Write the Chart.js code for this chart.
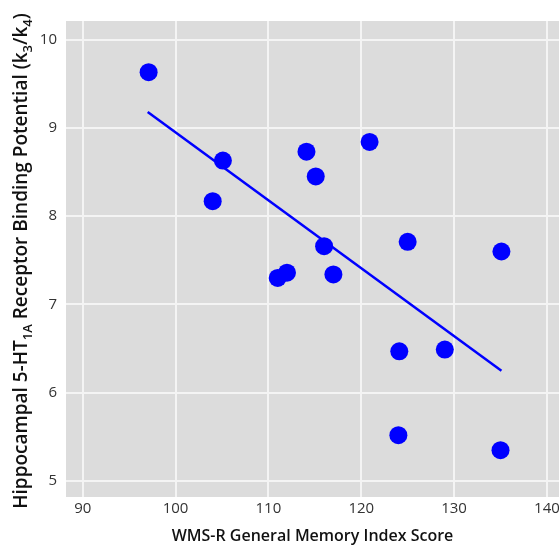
<!DOCTYPE html>
<html>
<head>
<meta charset="utf-8">
<script src="https://cdn.jsdelivr.net/npm/chart.js@4"></script>
<style>
  html, body { margin: 0; padding: 0; background: #fff; }
  #wrap { width: 559px; height: 546px; position: relative; }
</style>
</head>
<body>
<div id="wrap"><canvas id="chart" width="559" height="546"></canvas></div>
<script>
// values
const memoryScore = [97.1, 105.1, 104.0, 114.1, 115.1, 120.9, 116.0, 125.0, 135.1, 112.0, 111.0, 117.0, 124.1, 129.0, 124.0, 135.0];
const bindingPotential = [9.63, 8.63, 8.17, 8.73, 8.45, 8.84, 7.66, 7.71, 7.60, 7.36, 7.30, 7.34, 6.47, 6.49, 5.52, 5.35];
// regression line ends
const fitX = [97.0, 135.1];
const fitY = [9.18, 6.25];
// tick labels
const xTicks = [90, 100, 110, 120, 130, 140];
const yTicks = [5, 6, 7, 8, 9, 10];

const FONT = "'Open Sans', 'Noto Sans', sans-serif";
const BLUE = '#0000ff';

// gray panel behind the plot
const panelBg = {
    id: 'panelBg',
    beforeDraw(chart) {
        const a = chart.chartArea;
        const c = chart.ctx;
        c.save();
        c.fillStyle = '#dcdcdc';
        c.fillRect(a.left, a.top, a.right - a.left, a.bottom - a.top);
        c.restore();
    }
};

// y axis title with subscripts (k3/k4, 1A)
const yTitle = {
    id: 'yTitle',
    afterDraw(chart) {
        const c = chart.ctx;
        const parts = [
            ['Hippocampal 5-HT', false], ['1A', true],
            [' Receptor Binding Potential (k', false], ['3', true],
            ['/k', false], ['4', true], [')', false]
        ];
        const main = `600 19px ${FONT}`;
        const sub = `600 13px ${FONT}`;
        c.save();
        let total = 0;
        parts.forEach(p => { c.font = p[1] ? sub : main; total += c.measureText(p[0]).width; });
        c.translate(22, 261);
        c.rotate(-Math.PI / 2);
        c.fillStyle = '#111';
        c.textBaseline = 'middle';
        let x = -total / 2;
        parts.forEach(p => {
            c.font = p[1] ? sub : main;
            c.fillText(p[0], x, p[1] ? 6 : 0);
            x += c.measureText(p[0]).width;
        });
        c.restore();
    }
};

const ctx = document.getElementById('chart').getContext('2d');
new Chart(ctx, {
    type: 'scatter',
    data: {
        datasets: [
            {
                label: 'Subjects',
                data: memoryScore.map((v, i) => ({ x: v, y: bindingPotential[i] })),
                backgroundColor: BLUE,
                borderColor: BLUE,
                pointRadius: 9,
                pointHoverRadius: 9,
                borderWidth: 0
            },
            {
                label: 'Fit',
                data: fitX.map((v, i) => ({ x: v, y: fitY[i] })),
                showLine: true,
                borderColor: BLUE,
                borderWidth: 2.5,
                pointRadius: 0,
                fill: false
            }
        ]
    },
    options: {
        responsive: false,
        animation: false,
        layout: { autoPadding: false, padding: { top: 21, right: 0, left: 0, bottom: 0 } },
        plugins: { legend: { display: false }, tooltip: { enabled: false } },
        scales: {
            x: {
                min: 88.2,
                max: 141.3,
                afterBuildTicks: s => { s.ticks = xTicks.map(v => ({ value: v })); },
                afterFit: s => { s.height = 49; s.paddingLeft = 0; s.paddingRight = 0; },
                grid: { color: '#f4f4f4', lineWidth: 2, drawTicks: false },
                border: { display: false },
                ticks: { color: '#333', font: { family: FONT, size: 15 }, padding: 3 },
                title: {
                    display: true,
                    text: 'WMS-R General Memory Index Score',
                    color: '#111',
                    font: { family: FONT, size: 16, weight: 600 },
                    padding: { top: 6, bottom: 0 }
                }
            },
            y: {
                min: 4.82,
                max: 10.21,
                afterBuildTicks: s => { s.ticks = yTicks.map(v => ({ value: v })); },
                afterFit: s => { s.width = 66; s.paddingTop = 0; s.paddingBottom = 0; },
                grid: { color: '#f4f4f4', lineWidth: 2, drawTicks: false },
                border: { display: false },
                ticks: { color: '#333', font: { family: FONT, size: 15 }, padding: 9 }
            }
        }
    },
    plugins: [panelBg, yTitle]
});
</script>
</body>
</html>
